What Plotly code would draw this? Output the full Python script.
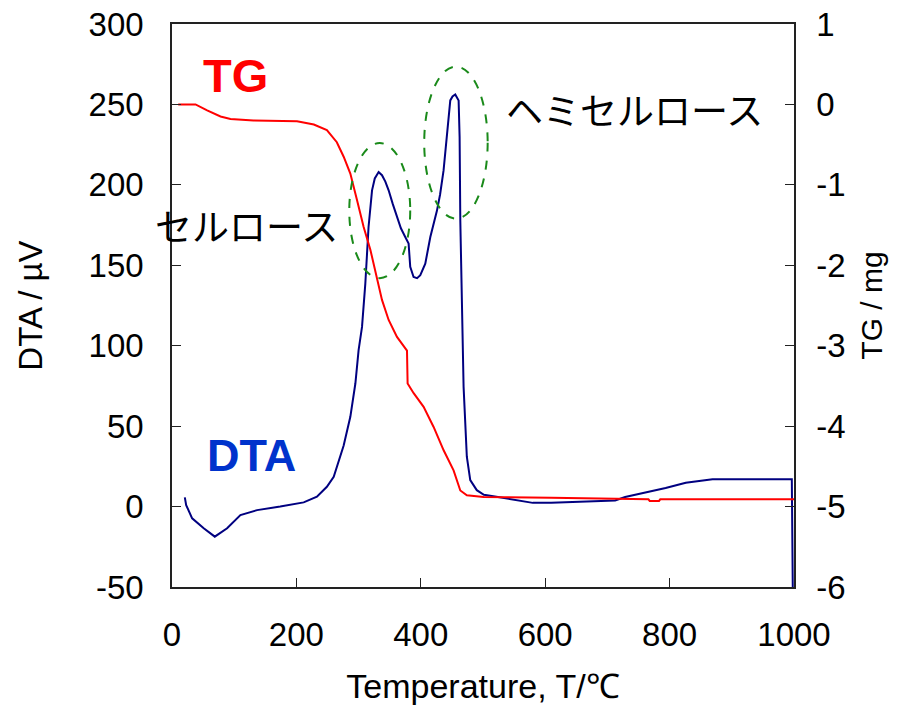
import plotly.graph_objects as go

# DTA curve: temperature (°C) and signal (µV)
dta_temp = [20.6, 22.8, 32.4, 51, 68.8, 88.6, 110, 136.8, 174, 211.7, 233, 249, 260,
            265, 276, 286.7, 294.8, 300, 305.5, 310.8, 313.6, 316, 321.6, 326, 332.2,
            337.6, 343, 348.3, 355, 361.7, 368, 375, 380.4, 383, 388.4, 394, 399.2,
            407.2, 415.3, 426, 431, 436.6, 442, 447.4, 451, 455.4, 460.8, 462.4,
            463.5, 466, 468.8, 474, 479.5, 490, 501.5, 534, 555.5, 580, 609.6, 663.8,
            712.5, 728.5, 761, 793.6, 826, 869, 996.5, 998]
dta_uv = [5.7, 0.9, -7.3, -13.5, -18.7, -13.5, -5.3, -2.2, 0, 2.6, 6.1, 12.3, 18.5,
          24.7, 38, 55.8, 76.5, 97.2, 111.7, 138.6, 155, 173.8, 196.6, 204, 208,
          206, 202, 196.6, 188, 180, 173, 167.6, 163.5, 149, 142.7, 142, 143.8,
          151, 167.6, 184, 194, 209, 232, 252.5, 255, 256.2, 252.5, 229.7,
          178, 130, 74.4, 31, 16.5, 10.2, 7.3, 5.3, 3.8, 2.3, 2.3, 3.2,
          3.8, 5.9, 8.6, 11.5, 14.8, 17, 17, -50]

# TG curve: temperature (°C) and mass change (mg)
tg_temp = [10, 37.8, 56.5, 78, 94, 131, 201, 228, 249, 265, 276, 286.7, 297.5, 308,
           319, 329.6, 337.6, 348.3, 361.7, 377.8, 378.8, 388.5, 404.5, 420.6, 436.7,
           452.7, 463.5, 474, 501, 609.6, 766, 768, 783, 785, 1000]
tg_mg = [0, 0, -0.075, -0.15, -0.18, -0.2, -0.21, -0.25, -0.32, -0.47, -0.65, -0.86,
         -1.19, -1.52, -1.81, -2.15, -2.43, -2.68, -2.89, -3.06, -3.47, -3.59, -3.76,
         -4.01, -4.3, -4.55, -4.8, -4.86, -4.88, -4.89, -4.91, -4.93, -4.93, -4.91,
         -4.91]

x_ticks = [0, 200, 400, 600, 800, 1000]
x_labels = ["0", "200", "400", "600", "800", "1000"]
y_ticks = [-50, 0, 50, 100, 150, 200, 250, 300]
y_labels = ["-50", "0", "50", "100", "150", "200", "250", "300"]
y2_ticks = [-6, -5, -4, -3, -2, -1, 0, 1]
y2_labels = ["-6", "-5", "-4", "-3", "-2", "-1", "0", "1"]

FONT = "Liberation Sans, Arial, sans-serif"
JP = "Noto Sans CJK JP, sans-serif"

fig = go.Figure()
fig.add_trace(go.Scatter(x=dta_temp, y=dta_uv, mode="lines",
                         line=dict(color="#000080", width=2), yaxis="y"))
fig.add_trace(go.Scatter(x=tg_temp, y=tg_mg, mode="lines",
                         line=dict(color="#ff0000", width=2), yaxis="y2"))

# dashed ellipses around the two decomposition peaks
for x0, x1, y0, y1 in [(285, 383, 142, 226), (405.5, 507.5, 179, 273.5)]:
    fig.add_shape(type="circle", xref="x", yref="y", x0=x0, x1=x1, y0=y0, y1=y1,
                  line=dict(color="#1a8a1a", width=2, dash="dash"))

fig.add_annotation(x=102, y=268, xref="x", yref="y", text="<b>TG</b>",
                   showarrow=False, font=dict(family=FONT, size=47, color="#ff0000"))
fig.add_annotation(x=128, y=32, xref="x", yref="y", text="<b>DTA</b>",
                   showarrow=False, font=dict(family=FONT, size=45, color="#0033cc"))
fig.add_annotation(x=744, y=247, xref="x", yref="y", text="ヘミセルロース",
                   showarrow=False, font=dict(family=JP, size=37, color="#000000"))
fig.add_annotation(x=120, y=175, xref="x", yref="y", text="セルロース",
                   showarrow=False, font=dict(family=JP, size=37, color="#000000"))

axis_common = dict(showgrid=False, zeroline=False, showline=True, linecolor="#222222",
                   linewidth=1.5, ticks="inside", tickcolor="#222222", tickwidth=1.2,
                   ticklen=9, tickmode="array", automargin=False,
                   tickfont=dict(family=FONT, size=33, color="#000000"))

fig.update_layout(
    width=900, height=705,
    margin=dict(l=171.5, r=106, t=23.5, b=118),
    paper_bgcolor="white", plot_bgcolor="white",
    showlegend=False,
    xaxis=dict(range=[0, 1000], tickvals=x_ticks, ticktext=x_labels, mirror=True,
               title=dict(text="Temperature, T/℃", font=dict(family=FONT, size=34, color="#000000"),
                          standoff=22),
               ticklabelstandoff=18, **axis_common),
    yaxis=dict(range=[-50, 300], tickvals=y_ticks, ticktext=y_labels,
               title=dict(text="DTA / µV", font=dict(family=FONT, size=33, color="#000000"),
                          standoff=36),
               ticklabelstandoff=20, **axis_common),
    yaxis2=dict(range=[-6, 1], tickvals=y2_ticks, ticktext=y2_labels,
                overlaying="y", side="right",
                title=dict(text="TG / mg", font=dict(family=FONT, size=30, color="#000000"),
                           standoff=16),
                ticklabelstandoff=14, **axis_common),
)

fig.write_html("out.html")
